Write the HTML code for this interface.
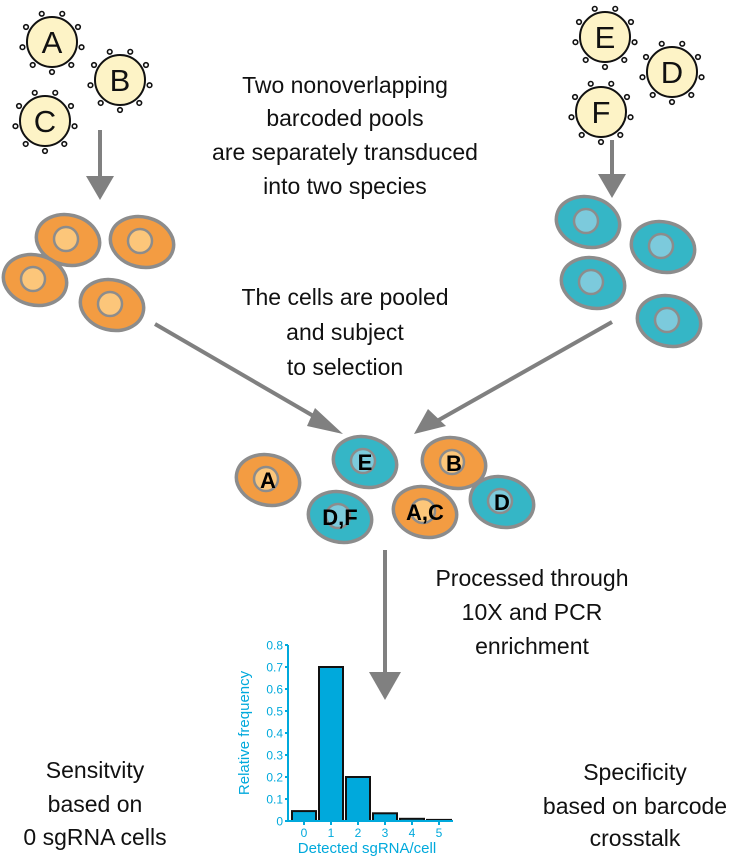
<!DOCTYPE html>
<html><head><meta charset="utf-8"><style>
body{margin:0;background:#fff}
svg{display:block;font-family:"Liberation Sans",Arial,sans-serif}
.t{font-size:23px;fill:#111;text-anchor:middle}
</style></head><body>
<svg id="s" width="729" height="861" viewBox="0 0 729 861">
<g id="arrows" stroke="#808080" stroke-width="4" fill="#808080">
<line x1="100" y1="130" x2="100" y2="180"/>
<path d="M86,176 L114,176 L100,200 Z" stroke="none"/>
<line x1="612" y1="140" x2="612" y2="178"/>
<path d="M598,174 L626,174 L612,198 Z" stroke="none"/>
<line x1="155" y1="324" x2="322" y2="421"/>
<path d="M315,408 L343,434 L307,426 Z" stroke="none"/>
<line x1="612" y1="322" x2="437" y2="421"/>
<path d="M428,409 L414,434 L446,426 Z" stroke="none"/>
<line x1="385" y1="550" x2="385" y2="676"/>
<path d="M369,672 L401,672 L385,700 Z" stroke="none"/>
</g>
<g id="viruses"></g>
<g id="cells"></g>
<g>
<text class="t" x="345" y="93">Two nonoverlapping</text>
<text class="t" x="345" y="126">barcoded pools</text>
<text class="t" x="345" y="160">are separately transduced</text>
<text class="t" x="345" y="194">into two species</text>
</g>
<g>
<text class="t" x="345" y="305">The cells are pooled</text>
<text class="t" x="345" y="340">and subject</text>
<text class="t" x="345" y="375">to selection</text>
</g>
<g>
<text class="t" x="532" y="586">Processed through</text>
<text class="t" x="532" y="620">10X and PCR</text>
<text class="t" x="532" y="654">enrichment</text>
</g>
<g>
<text class="t" x="95" y="778">Sensitvity</text>
<text class="t" x="95" y="812">based on</text>
<text class="t" x="95" y="845">0 sgRNA cells</text>
</g>
<g>
<text class="t" x="635" y="780">Specificity</text>
<text class="t" x="635" y="814">based on barcode</text>
<text class="t" x="635" y="846">crosstalk</text>
</g>
<g id="chart"></g>
</svg>
<script>
const categories = ["0","1","2","3","4","5"];
const frequencies = [0.045, 0.70, 0.20, 0.035, 0.01, 0.005];
const yTicks = ["0","0.1","0.2","0.3","0.4","0.5","0.6","0.7","0.8"];

const NS="http://www.w3.org/2000/svg";
function mk(tag,attrs,parent){const e=document.createElementNS(NS,tag);for(const k in attrs)e.setAttribute(k,attrs[k]);parent.appendChild(e);return e;}

const vg=document.getElementById('viruses');
[["A",52,42],["B",120,80],["C",45,121],["E",605,37],["D",672,72],["F",601,112]].forEach(([l,cx,cy])=>{
  const g=mk('g',{},vg);
  
  
  mk('circle',{cx:cx,cy:cy,r:25,fill:'#fdf3c6',stroke:'#111','stroke-width':2},g);
  for(let i=0;i<9;i++){const a=-Math.PI/2+Math.PI/9+i*2*Math.PI/9;
    mk('circle',{cx:cx+30*Math.cos(a),cy:cy+30*Math.sin(a),r:2.3,fill:'#fff',stroke:'#111','stroke-width':1.6},g);}
  const t=mk('text',{x:cx,y:cy+11,'text-anchor':'middle','font-size':31,fill:'#111'},g);t.textContent=l;
});

const cg=document.getElementById('cells');
const OR=['#f39c42','#fcc67a'],TE=['#35b6c6','#7ccadc'];
[[68,240,OR,""],[142,242,OR,""],[35,280,OR,""],[112,305,OR,""],
 [588,222,TE,""],[663,247,TE,""],[593,283,TE,""],[669,321,TE,""],
 [268,480,OR,"A"],[365,462,TE,"E"],[454,463,OR,"B"],[340,517,TE,"D,F"],[425,512,OR,"A,C"],[502,502,TE,"D"]].forEach(([cx,cy,c,l],i)=>{
  const g=mk('g',{},cg);
  
  
  mk('ellipse',{cx:cx,cy:cy,rx:32,ry:25,fill:c[0],stroke:'#8c8c8c','stroke-width':3.5,transform:`rotate(14 ${cx} ${cy})`},g);
  mk('circle',{cx:cx-2,cy:cy-1,r:12,fill:c[1],stroke:'#8c8c8c','stroke-width':2.5},g);
  if(l){const t=mk('text',{x:cx,y:cy+8,'text-anchor':'middle','font-size':22,'font-weight':'bold',fill:'#000'},g);t.textContent=l;}
});

const ch=document.getElementById('chart');
const x0=288,y0=821,yMax=0.8,yH=176,bw=26,step=27,bx0=292;
const ys=v=>y0-v/yMax*yH;
const xs=i=>bx0+i*step;
const blue='#00a9dc';
frequencies.forEach((v,i)=>{
  const r=mk('rect',{x:xs(i),y:ys(v),width:bw-2,height:y0-ys(v),fill:blue,stroke:'#111','stroke-width':2},ch);
  
  
  const t=mk('text',{x:xs(i)+bw/2-1,y:y0+16,'text-anchor':'middle','font-size':12,fill:blue},ch);
  
  
  t.textContent=categories[i];
  mk('line',{x1:xs(i)+bw/2-1,y1:y0,x2:xs(i)+bw/2-1,y2:y0+4,stroke:blue,'stroke-width':2},ch);
});
yTicks.forEach((lab,i)=>{
  const y=ys(i*0.1);
  mk('line',{x1:x0-3,y1:y,x2:x0,y2:y,stroke:blue,'stroke-width':2},ch);
  const t=mk('text',{x:x0-5,y:y+4.5,'text-anchor':'end','font-size':12,fill:blue},ch);
  
  
  t.textContent=lab;
});
const ya=mk('line',{x1:x0,y1:ys(yMax),x2:x0,y2:y0,stroke:blue,'stroke-width':2},ch);


const xa=mk('line',{x1:x0,y1:y0,x2:xs(categories.length)-1,y2:y0,stroke:blue,'stroke-width':2},ch);


const yt=mk('text',{x:0,y:0,'text-anchor':'middle','font-size':15,fill:blue,transform:'translate(249,733) rotate(-90)'},ch);


yt.textContent='Relative frequency';
const xt=mk('text',{x:367,y:853,'text-anchor':'middle','font-size':15,fill:blue},ch);


xt.textContent='Detected sgRNA/cell';
</script>
</body></html>
